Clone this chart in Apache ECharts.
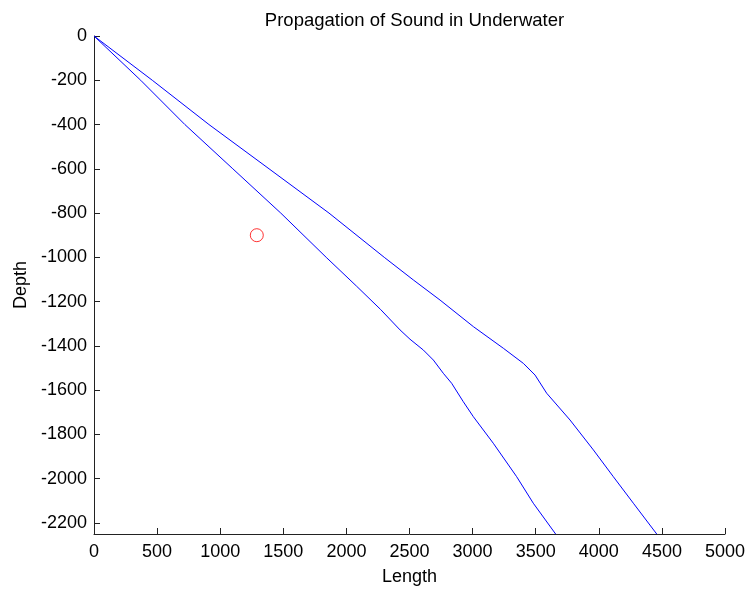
<!DOCTYPE html>
<html>
<head>
<meta charset="utf-8">
<script src="https://cdn.jsdelivr.net/npm/echarts@6/dist/echarts.min.js"></script>
<style>html,body{margin:0;padding:0;background:#fff;}#chart{width:750px;height:589px;}</style>
</head>
<body>
<div id="chart"></div>
<script>
const titleText = 'Propagation of Sound in Underwater';
const xName = 'Length';
const yName = 'Depth';

const upperLength = [0, 462, 911, 1387, 1862, 2300, 2530, 2742, 3006, 3244, 3402, 3495, 3587, 3772, 3957, 4115, 4274, 4459];
const upperDepth  = [0, -200, -400, -600, -800, -1000, -1102, -1193, -1313, -1411, -1479, -1532, -1614, -1735, -1870, -1991, -2111, -2250];

const lowerLength = [0, 370, 720, 1100, 1480, 1840, 2080, 2270, 2425, 2504, 2610, 2689, 2768, 2834, 2926, 3006, 3164, 3349, 3481, 3658];
const lowerDepth  = [0, -200, -400, -600, -800, -1000, -1130, -1235, -1328, -1370, -1419, -1464, -1524, -1569, -1652, -1720, -1840, -1991, -2111, -2250];

const markerLength = [1290];
const markerDepth = [-900];

const yTickValues = [0, -200, -400, -600, -800, -1000, -1200, -1400, -1600, -1800, -2000, -2200];

const zip = (a, b) => a.map((v, i) => [v, b[i]]);

const font = 'Liberation Sans, Arial, Helvetica, sans-serif';
const axisColor = '#222';
const plain = v => String(v);

const chart = echarts.init(document.getElementById('chart'), null, {renderer: 'canvas'});
chart.setOption({
  animation: false,
  backgroundColor: '#fff',
  title: {
    text: titleText,
    left: 409.5,
    textAlign: 'center',
    top: 6,
    textStyle: {fontFamily: font, fontSize: 18.5, fontWeight: 'normal', color: '#000'}
  },
  grid: {left: 94, top: 36, right: 25, bottom: 55, containLabel: false, outerBoundsMode: 'none'},
  xAxis: {
    type: 'value',
    min: 0, max: 5000, interval: 500,
    name: xName, nameLocation: 'middle', nameGap: 34,
    nameTextStyle: {fontFamily: font, fontSize: 18, color: '#000'},
    axisLine: {show: true, onZero: false, lineStyle: {color: axisColor, width: 1}},
    axisTick: {show: true, inside: true, length: 6, lineStyle: {color: axisColor}},
    axisLabel: {fontFamily: font, fontSize: 18, color: '#000', margin: 9, formatter: plain, showMaxLabel: true, showMinLabel: true},
    splitLine: {show: false}
  },
  yAxis: {
    type: 'value',
    min: -2250, max: 0,
    name: yName, nameLocation: 'middle', nameGap: 57,
    nameTextStyle: {fontFamily: font, fontSize: 18, color: '#000'},
    axisLine: {show: true, onZero: false, lineStyle: {color: axisColor, width: 1}},
    axisTick: {show: true, inside: true, length: 6, lineStyle: {color: axisColor}, customValues: yTickValues},
    axisLabel: {fontFamily: font, fontSize: 18, color: '#000', margin: 7, formatter: plain, customValues: yTickValues},
    splitLine: {show: false}
  },
  series: [
    {
      type: 'line', data: zip(upperLength, upperDepth), showSymbol: false, smooth: false,
      lineStyle: {color: '#0000ff', width: 1}, itemStyle: {color: '#0000ff'}
    },
    {
      type: 'line', data: zip(lowerLength, lowerDepth), showSymbol: false, smooth: false,
      lineStyle: {color: '#0000ff', width: 1}, itemStyle: {color: '#0000ff'}
    },
    {
      type: 'scatter', data: zip(markerLength, markerDepth), symbol: 'circle', symbolSize: 13,
      itemStyle: {color: 'rgba(0,0,0,0)', borderColor: '#ff0000', borderWidth: 1}
    }
  ]
});
</script>
</body>
</html>
